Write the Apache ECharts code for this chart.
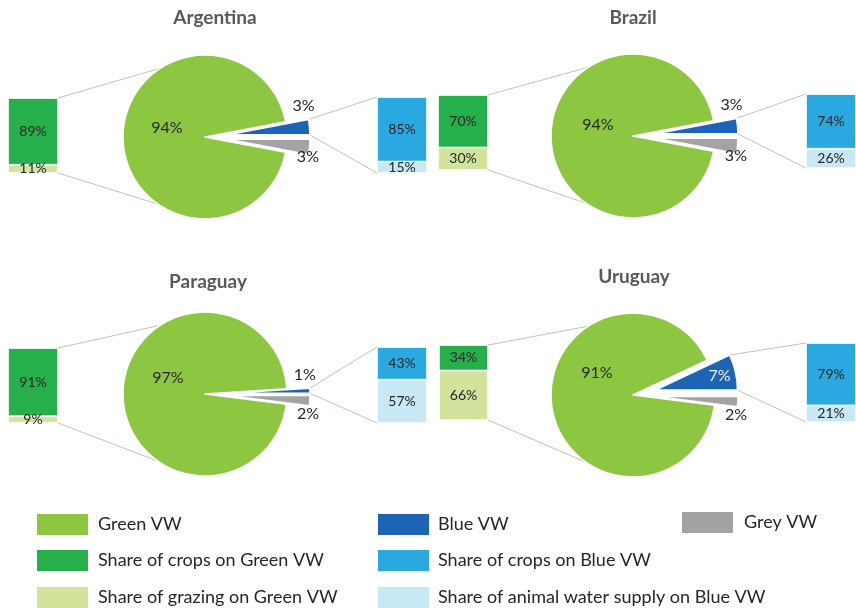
<!DOCTYPE html>
<html>
<head>
<meta charset="utf-8">
<script src="https://cdn.jsdelivr.net/npm/echarts@6/dist/echarts.min.js"></script>
<style>
  html, body { margin: 0; padding: 0; background: #ffffff; }
  #chart { width: 856px; height: 608px; }
</style>
</head>
<body>
<div id="chart"></div>
<script>
// Virtual water (VW) composition per country, in percent
const countries      = ['Argentina', 'Brazil', 'Paraguay', 'Uruguay'];
const greenVW        = [94, 94, 97, 91];
const blueVW         = [3, 3, 1, 7];
const greyVW         = [3, 3, 2, 2];
// Breakdown of green VW (left bar) and blue VW (right bar)
const cropsOnGreen   = [89, 70, 91, 34];
const grazingOnGreen = [11, 30, 9, 66];
const cropsOnBlue    = [85, 74, 43, 79];
const animalOnBlue   = [15, 26, 57, 21];

const NAMES = {
  green: 'Green VW',
  blue: 'Blue VW',
  grey: 'Grey VW',
  cropsG: 'Share of crops on Green VW',
  grazing: 'Share of grazing on Green VW',
  cropsB: 'Share of crops on Blue VW',
  animal: 'Share of animal water supply on Blue VW'
};

const COLORS = {
  green: '#8dc641',
  blue: '#1e64b6',
  grey: '#a3a3a3',
  cropsG: '#25b04b',
  grazing: '#d2e49c',
  cropsB: '#2aa9e0',
  animal: '#c8e8f6'
};

const FONT = 'Lato, "Open Sans", sans-serif';
const TEXT = '#262626';
const LINK = '#cdbfb8';
const R = 82;          // pie radius
const OFFSET = 23;     // explode distance of blue / grey slices
const CLEAR = 'rgba(0,0,0,0)';

// Panel placement: pie centre, title anchor, bar boxes [x, y, w, h], green label shift
const panels = [
  { cx: 205, cy: 137, title: [215, 8],   barL: [8, 98, 50, 75],   barR: [377, 97, 50, 76],  gl: [-38, -9] },
  { cx: 633, cy: 136, title: [633, 8],   barL: [438, 95, 50, 75], barR: [806, 94, 50, 74],  gl: [-35, -11] },
  { cx: 205, cy: 394, title: [208, 272], barL: [8, 348, 50, 75],  barR: [377, 347, 50, 76], gl: [-37, -16] },
  { cx: 633, cy: 395, title: [634, 267], barL: [439, 345, 49, 75], barR: [806, 343, 50, 79], gl: [-36, -22] }
];

// Legend entries: [name, left, top, text gap]
const legendPlaces = [
  [NAMES.green,   35, 512, 4],
  [NAMES.cropsG,  35, 548, 4],
  [NAMES.grazing, 35, 585, 4],
  [NAMES.blue,    376, 512, 3],
  [NAMES.cropsB,  376, 548, 3],
  [NAMES.animal,  376, 585, 3],
  [NAMES.grey,    680, 510, 5]
];

const DEG = Math.PI / 180;

// Geometry of the exploded slices, derived from the values
function sliceGeometry(i) {
  const p = panels[i];
  const total = greenVW[i] + blueVW[i] + greyVW[i];
  const aBlue = blueVW[i] / total * 360;
  const aGrey = greyVW[i] / total * 360;
  const bx = p.cx + OFFSET * Math.cos(aBlue / 2 * DEG);
  const by = p.cy - OFFSET * Math.sin(aBlue / 2 * DEG);
  const gx = p.cx + OFFSET * Math.cos(aGrey / 2 * DEG);
  const gy = p.cy + OFFSET * Math.sin(aGrey / 2 * DEG);
  return {
    aBlue, aGrey, bx, by, gx, gy,
    blueTop: [bx + R * Math.cos(aBlue * DEG), by - R * Math.sin(aBlue * DEG)],
    blueBottom: [bx + R, by]
  };
}

const title = [];
const grid = [];
const xAxis = [];
const yAxis = [];
const series = [];
const graphicLines = [];

const barLabel = {
  show: true,
  position: 'inside',
  formatter: '{c}%',
  fontFamily: FONT,
  fontSize: 14,
  color: TEXT
};

const pieLabel = {
  show: true,
  position: 'inside',
  formatter: '{c}%',
  fontFamily: FONT,
  fontSize: 16,
  color: TEXT
};

// An invisible slice that only reserves angle in a pie ring
function gap(value) {
  return {
    name: '',
    value: value,
    itemStyle: { color: CLEAR, borderWidth: 0 },
    label: { show: false },
    emphasis: { disabled: true }
  };
}

function pieBase(center, startAngle) {
  return {
    type: 'pie',
    center: center,
    radius: R,
    startAngle: startAngle,
    clockwise: true,
    avoidLabelOverlap: false,
    animation: false,
    silent: true,
    emphasis: { disabled: true },
    itemStyle: { borderColor: '#ffffff', borderWidth: 1.5 },
    label: pieLabel,
    labelLine: { show: false }
  };
}

function addBarGrid(box) {
  grid.push({ left: box[0], top: box[1], width: box[2], height: box[3], containLabel: false });
  const k = grid.length - 1;
  xAxis.push({ type: 'category', data: [''], show: false, gridIndex: k });
  yAxis.push({ type: 'value', min: 0, max: 100, show: false, gridIndex: k });
  return k;
}

function barSeries(name, value, color, k) {
  return {
    type: 'bar',
    name: name,
    xAxisIndex: k,
    yAxisIndex: k,
    stack: 'stack' + k,
    barWidth: '100%',
    data: [value],
    itemStyle: { color: color, borderColor: '#ffffff', borderWidth: 0.8 },
    label: barLabel,
    emphasis: { disabled: true },
    animation: false
  };
}

countries.forEach(function (country, i) {
  const p = panels[i];
  const g = sliceGeometry(i);
  const blueInside = blueVW[i] >= 5;

  title.push({
    text: country,
    left: p.title[0],
    top: p.title[1],
    textAlign: 'center',
    padding: 0,
    textStyle: { fontFamily: FONT, fontSize: 19, fontWeight: 'bold', color: '#595959' }
  });

  // Green VW slice, in place
  series.push(Object.assign(pieBase([p.cx, p.cy], g.aBlue), {
    data: [
      gap(blueVW[i] + greyVW[i]),
      { name: NAMES.green, value: greenVW[i], itemStyle: { color: COLORS.green } }
    ],
    labelLayout: function () {
      return { x: p.cx + p.gl[0], y: p.cy + p.gl[1], align: 'center', verticalAlign: 'middle' };
    }
  }));

  // Blue VW slice, pulled out along its bisector
  series.push(Object.assign(pieBase([g.bx, g.by], g.aBlue), {
    data: [
      { name: NAMES.blue, value: blueVW[i], itemStyle: { color: COLORS.blue },
        label: { color: blueInside ? '#eef3fb' : TEXT } },
      gap(greyVW[i] + greenVW[i])
    ],
    labelLayout: function () {
      if (blueInside) {
        const m = g.aBlue / 2 * DEG;
        return { x: g.bx + 0.8 * R * Math.cos(m), y: g.by - 0.8 * R * Math.sin(m), align: 'center', verticalAlign: 'middle' };
      }
      return { x: g.blueTop[0] - 5, y: g.blueTop[1] - 13.5, align: 'center', verticalAlign: 'middle' };
    }
  }));

  // Grey VW slice, pulled out along its bisector
  series.push(Object.assign(pieBase([g.gx, g.gy], g.aBlue), {
    data: [
      gap(blueVW[i]),
      { name: NAMES.grey, value: greyVW[i], itemStyle: { color: COLORS.grey } },
      gap(greenVW[i])
    ],
    labelLayout: function () {
      return { x: g.gx + R - 2, y: g.gy + 18, align: 'center', verticalAlign: 'middle' };
    }
  }));

  // Left bar: split of green VW
  const kL = addBarGrid(p.barL);
  series.push(barSeries(NAMES.grazing, grazingOnGreen[i], COLORS.grazing, kL));
  series.push(barSeries(NAMES.cropsG, cropsOnGreen[i], COLORS.cropsG, kL));

  // Right bar: split of blue VW
  const kR = addBarGrid(p.barR);
  series.push(barSeries(NAMES.animal, animalOnBlue[i], COLORS.animal, kR));
  series.push(barSeries(NAMES.cropsB, cropsOnBlue[i], COLORS.cropsB, kR));

  // Connector lines between the pie and the bars
  const upL = [p.cx + R * Math.cos(123 * DEG), p.cy - R * Math.sin(123 * DEG)];
  const loL = [p.cx + R * Math.cos(-125 * DEG), p.cy - R * Math.sin(-125 * DEG)];
  const L = p.barL, Rb = p.barR;
  [
    [[L[0] + L[2], L[1]], upL],
    [[L[0] + L[2], L[1] + L[3]], loL],
    [g.blueTop, [Rb[0], Rb[1]]],
    [g.blueBottom, [Rb[0], Rb[1] + Rb[3]]]
  ].forEach(function (seg) {
    graphicLines.push({
      type: 'line',
      silent: true,
      z: 0,
      shape: { x1: seg[0][0], y1: seg[0][1], x2: seg[1][0], y2: seg[1][1] },
      style: { stroke: LINK, lineWidth: 1 }
    });
  });
});

const legend = legendPlaces.map(function (e) {
  return {
    left: e[1],
    top: e[2],
    icon: 'rect',
    itemWidth: 53,
    itemHeight: 23,
    padding: 0,
    selectedMode: false,
    data: [e[0]],
    textStyle: { fontFamily: FONT, fontSize: 18, color: TEXT, padding: [0, 0, 0, e[3]] }
  };
});

const option = {
  backgroundColor: '#ffffff',
  animation: false,
  title: title,
  grid: grid,
  xAxis: xAxis,
  yAxis: yAxis,
  legend: legend,
  graphic: { elements: graphicLines },
  series: series
};

const chart = echarts.init(document.getElementById('chart'), null, { renderer: 'canvas' });
chart.setOption(option);
</script>
</body>
</html>
